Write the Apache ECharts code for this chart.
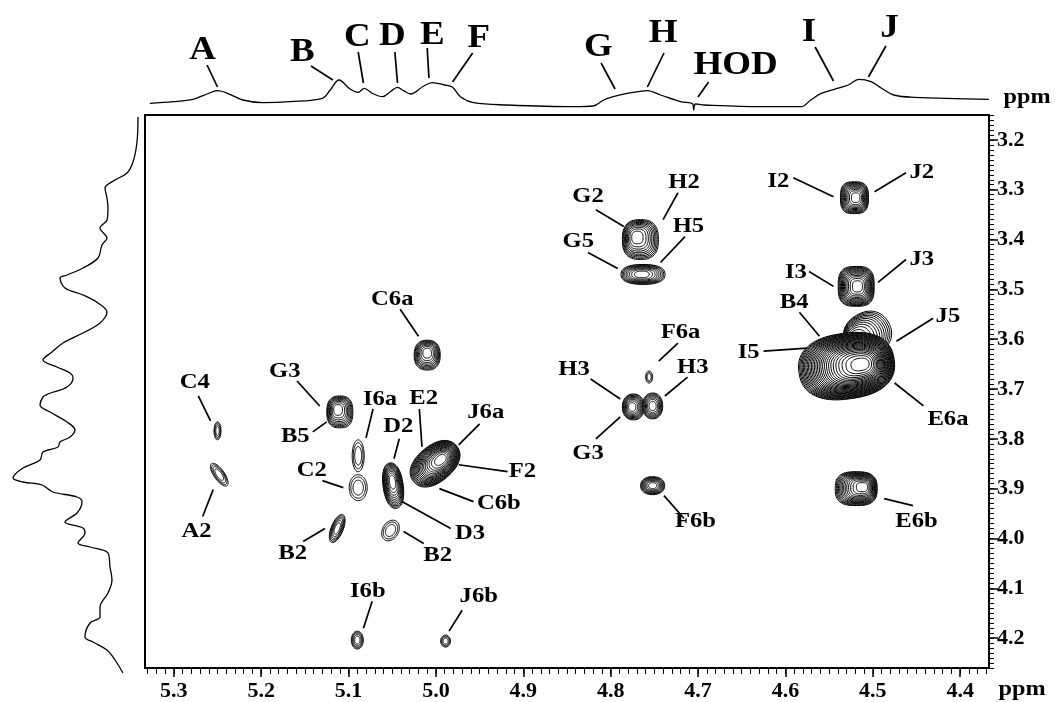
<!DOCTYPE html>
<html>
<head>
    <meta charset="utf-8">
    <title>2D NMR</title>
    <script src="https://cdn.jsdelivr.net/npm/echarts@6/dist/echarts.min.js"></script>
</head>
<body>
<div id="main"></div>
<style type="text/css">
    html, body {
        height: 100%;
        margin: 0px;
        padding: 0px;
        background: #fff
    }

    #main {
        width: 1055px;
        height: 702px
    }
</style>

<script type="text/javascript">
    // tick labels (ppm)
    var xTicks = [5.3, 5.2, 5.1, 5.0, 4.9, 4.8, 4.7, 4.6, 4.5, 4.4];
    var yTicks = [3.2, 3.3, 3.4, 3.5, 3.6, 3.7, 3.8, 3.9, 4.0, 4.1, 4.2];

    // 1D projection on top: [ppm, intensity]
    var topTrace = [
        [5.3275, 9.7], [5.301, 11.3], [5.278, 13.7], [5.262, 19], [5.250, 22.3], [5.236, 18.7],
        [5.221, 13], [5.198, 10.3], [5.167, 11.3], [5.130, 14.7], [5.121, 23], [5.111, 33],
        [5.098, 23.7], [5.089, 20.7], [5.082, 24.7], [5.073, 19.7], [5.061, 16.3], [5.052, 21.3],
        [5.044, 25.7], [5.037, 22.3], [5.029, 19], [5.014, 27], [5.004, 30.3], [4.990, 28],
        [4.981, 25.7], [4.972, 16.3], [4.957, 10.3], [4.918, 8], [4.842, 6.3], [4.820, 7],
        [4.808, 13], [4.797, 16.3], [4.781, 19.7], [4.769, 21.3], [4.758, 22.3], [4.743, 18],
        [4.720, 11.3], [4.706, 9], [4.705, 3], [4.703, 9], [4.693, 8], [4.628, 6.3],
        [4.582, 6.3], [4.571, 13], [4.559, 19.7], [4.544, 23.7], [4.528, 28], [4.516, 33.7],
        [4.502, 31.3], [4.490, 24.7], [4.476, 18], [4.453, 15.7], [4.367, 13.7]
    ];

    // 1D projection on the left: [intensity, ppm]
    var sideTrace = [
        [2, 3.154], [3, 3.204], [7, 3.244], [13, 3.266], [25, 3.28], [35, 3.296], [33, 3.316],
        [32, 3.336], [33, 3.36], [40, 3.376], [33, 3.396], [38, 3.41], [42, 3.436], [57, 3.456],
        [73, 3.47], [80, 3.476], [75, 3.496], [57, 3.51], [42, 3.526], [33, 3.544], [40, 3.566],
        [57, 3.586], [77, 3.606], [88, 3.624], [97, 3.64], [83, 3.654], [70, 3.666], [67, 3.676],
        [73, 3.694], [92, 3.708], [97, 3.714], [100, 3.73], [90, 3.744], [73, 3.764], [65, 3.78],
        [70, 3.794], [80, 3.804], [82, 3.814], [97, 3.824], [100, 3.84], [117, 3.856], [127, 3.876],
        [117, 3.884], [98, 3.89], [87, 3.904], [63, 3.914], [58, 3.924], [63, 3.946], [75, 3.964],
        [57, 3.976], [55, 3.986], [62, 4.006], [50, 4.014], [32, 4.026], [30, 4.054], [28, 4.08],
        [32, 4.106], [40, 4.134], [40, 4.154], [50, 4.166], [55, 4.194], [47, 4.204], [33, 4.22],
        [25, 4.24], [17, 4.266]
    ];

    // cross peaks: [x ppm, y ppm, half width x, half width y, contour levels, tilt deg, apex x, apex y, squareness]
    var peaks = [
        [5.250, 3.784, 0.0040, 0.018, 4, 0, 5.250, 3.784, 2],
        [5.248, 3.872, 0.0060, 0.027, 4, -35, 5.248, 3.872, 2],
        [5.110, 3.746, 0.0149, 0.032, 9, 0, 5.113, 3.740, 2.6],
        [5.089, 3.834, 0.0069, 0.032, 3, 0, 5.089, 3.834, 2],
        [5.089, 3.898, 0.0103, 0.026, 3, 0, 5.089, 3.898, 2],
        [5.113, 3.980, 0.0069, 0.030, 6, 22, 5.113, 3.980, 2],
        [5.049, 3.894, 0.0115, 0.046, 11, -8, 5.050, 3.884, 2.2],
        [5.052, 3.984, 0.0092, 0.022, 3, 30, 5.052, 3.984, 2],
        [5.010, 3.632, 0.0149, 0.030, 9, 0, 5.010, 3.626, 2.4],
        [4.506, 3.590, 0.0275, 0.044, 12, -30, 4.525, 3.606, 2.2],
        [5.001, 3.850, 0.0320, 0.036, 18, -40, 4.993, 3.840, 2.2],
        [4.766, 3.400, 0.0206, 0.040, 10, 0, 4.771, 3.394, 2.6],
        [4.763, 3.470, 0.0252, 0.020, 9, 0, 4.765, 3.470, 2.4],
        [4.756, 3.676, 0.0040, 0.012, 3, 0, 4.756, 3.676, 2],
        [4.774, 3.736, 0.0126, 0.026, 9, 0, 4.776, 3.736, 2.2],
        [4.752, 3.734, 0.0115, 0.026, 8, 0, 4.752, 3.734, 2.2],
        [4.752, 3.894, 0.0138, 0.018, 9, 0, 4.752, 3.894, 2.2],
        [4.521, 3.316, 0.0160, 0.032, 11, 0, 4.519, 3.316, 3],
        [4.519, 3.494, 0.0206, 0.040, 13, 0, 4.517, 3.494, 3],
        [4.530, 3.654, 0.0550, 0.066, 28, -8, 4.511, 3.650, 2.4],
        [4.519, 3.900, 0.0240, 0.034, 14, 0, 4.510, 3.896, 2.8],
        [5.090, 4.204, 0.0069, 0.018, 5, 0, 5.090, 4.204, 2],
        [4.989, 4.206, 0.0057, 0.012, 4, 0, 4.989, 4.206, 2]
    ];

    // peak assignments: [text, text x, text y, line x1, y1, x2, y2] (ppm)
    var peakNotes = [
        ['C4', 5.276, 3.686, 5.272, 3.714, 5.258, 3.764],
        ['A2', 5.274, 3.986, 5.267, 3.956, 5.255, 3.902],
        ['G3', 5.173, 3.664, 5.159, 3.684, 5.133, 3.734],
        ['B5', 5.161, 3.794, 5.141, 3.786, 5.125, 3.766],
        ['I6a', 5.064, 3.720, 5.072, 3.740, 5.080, 3.798],
        ['C2', 5.142, 3.864, 5.130, 3.884, 5.106, 3.898],
        ['B2', 5.164, 4.030, 5.152, 4.006, 5.127, 3.980],
        ['D2', 5.043, 3.774, 5.042, 3.800, 5.048, 3.840],
        ['E2', 5.014, 3.718, 5.019, 3.740, 5.016, 3.816],
        ['D3', 4.961, 3.990, 4.983, 3.980, 5.039, 3.926],
        ['B2', 4.998, 4.034, 5.014, 4.010, 5.037, 3.986],
        ['C6a', 5.050, 3.520, 5.041, 3.540, 5.020, 3.594],
        ['J6a', 4.943, 3.746, 4.950, 3.770, 4.974, 3.812],
        ['F2', 4.901, 3.866, 4.918, 3.866, 4.974, 3.852],
        ['C6b', 4.928, 3.930, 4.957, 3.926, 4.996, 3.900],
        ['H3', 4.842, 3.660, 4.823, 3.680, 4.789, 3.720],
        ['G3', 4.826, 3.830, 4.817, 3.800, 4.789, 3.756],
        ['G2', 4.826, 3.314, 4.817, 3.340, 4.785, 3.374],
        ['H2', 4.716, 3.286, 4.723, 3.306, 4.740, 3.360],
        ['G5', 4.837, 3.404, 4.826, 3.426, 4.792, 3.458],
        ['H5', 4.711, 3.374, 4.715, 3.394, 4.743, 3.446],
        ['F6a', 4.720, 3.586, 4.723, 3.608, 4.745, 3.644],
        ['H3', 4.706, 3.656, 4.712, 3.676, 4.738, 3.714],
        ['F6b', 4.703, 3.966, 4.716, 3.960, 4.739, 3.914],
        ['I2', 4.608, 3.284, 4.591, 3.276, 4.545, 3.314],
        ['J2', 4.444, 3.266, 4.462, 3.266, 4.498, 3.304],
        ['I3', 4.588, 3.466, 4.573, 3.464, 4.545, 3.494],
        ['J3', 4.444, 3.440, 4.462, 3.440, 4.494, 3.486],
        ['B4', 4.590, 3.526, 4.584, 3.546, 4.561, 3.594],
        ['I5', 4.642, 3.626, 4.625, 3.624, 4.575, 3.618],
        ['J5', 4.414, 3.554, 4.431, 3.558, 4.473, 3.604],
        ['E6a', 4.414, 3.760, 4.442, 3.734, 4.475, 3.688],
        ['E6b', 4.450, 3.966, 4.454, 3.934, 4.487, 3.920],
        ['I6b', 5.078, 4.106, 5.073, 4.126, 5.083, 4.180],
        ['J6b', 4.951, 4.116, 4.970, 4.144, 4.985, 4.186]
    ];

    // residue letters on the top trace: [text, x ppm, y, line x1, y1, x2, y2]
    var traceNotes = [
        ['A', 5.267, 63, 5.262, 48, 5.250, 26],
        ['B', 5.153, 61, 5.143, 47, 5.118, 33],
        ['C', 5.090, 76, 5.089, 61, 5.083, 30],
        ['D', 5.050, 77, 5.047, 61, 5.044, 30],
        ['E', 5.004, 78, 5.010, 65, 5.008, 35],
        ['F', 4.951, 75, 4.958, 60, 4.981, 31],
        ['G', 4.814, 66, 4.811, 50, 4.795, 24],
        ['H', 4.740, 80, 4.739, 60, 4.758, 26],
        ['HOD', 4.657, 48, 4.688, 31, 4.700, 16],
        ['I', 4.573, 81, 4.566, 66, 4.545, 32],
        ['J', 4.481, 85, 4.485, 67, 4.505, 36]
    ];

    var xMinor = [];
    for (var k = 437; k <= 533; k++) xMinor.push(k / 100);
    var yMinor = [];
    for (var m = 315; m <= 426; m++) yMinor.push(m / 100);

    var FONT = '"Liberation Serif", "Times New Roman", serif';

    function renderPeak(params, api) {
        var c = api.coord([api.value(0), api.value(1)]);
        var s = api.size([api.value(2), api.value(3)]);
        var n = api.value(4);
        var ang = api.value(5) * Math.PI / 180;
        var a = api.coord([api.value(6), api.value(7)]);
        var q = api.value(8);
        var rx0 = Math.abs(s[0]), ry0 = Math.abs(s[1]);
        var children = [];
        for (var i = 0; i < n; i++) {
            var f = Math.sqrt(1 - i / n);
            var u = 1 - f;
            var cx = c[0] + (a[0] - c[0]) * u;
            var cy = c[1] + (a[1] - c[1]) * u;
            var pts = [];
            for (var j = 0; j < 64; j++) {
                var th = 2 * Math.PI * j / 64;
                var co = Math.cos(th), si = Math.sin(th);
                var ex = rx0 * f * (co < 0 ? -1 : 1) * Math.pow(Math.abs(co), 2 / q);
                var ey = ry0 * f * (si < 0 ? -1 : 1) * Math.pow(Math.abs(si), 2 / q);
                pts.push([cx + ex * Math.cos(ang) - ey * Math.sin(ang),
                    cy + ex * Math.sin(ang) + ey * Math.cos(ang)]);
            }
            children.push({
                type: 'polygon',
                shape: {points: pts},
                style: {fill: '#fff', stroke: '#000', lineWidth: 1}
            });
        }
        return {type: 'group', children: children};
    }

    function noteRenderer(list, size) {
        return function (params, api) {
            var t = api.coord([api.value(0), api.value(1)]);
            var p1 = api.coord([api.value(2), api.value(3)]);
            var p2 = api.coord([api.value(4), api.value(5)]);
            return {
                type: 'group',
                children: [{
                    type: 'line',
                    shape: {x1: p1[0], y1: p1[1], x2: p2[0], y2: p2[1]},
                    style: {stroke: '#000', lineWidth: 1.7}
                }, {
                    type: 'text',
                    x: t[0],
                    y: t[1],
                    scaleX: 1.12,
                    style: {
                        text: list[params.dataIndex][0],
                        font: 'bold ' + size + 'px ' + FONT,
                        fill: '#000',
                        align: 'center',
                        verticalAlign: 'middle'
                    }
                }]
            };
        };
    }

    var labelStyle = {
        color: '#000',
        fontFamily: FONT,
        fontWeight: 'bold',
        fontSize: 22
    };

    var myChart = echarts.init(document.getElementById('main'));

    var option = {
        backgroundColor: '#fff',
        animation: false,
        grid: [
            {left: 145, top: 115, width: 844, height: 555, show: true, borderColor: '#000', borderWidth: 2},
            {left: 145, top: 0, width: 844, height: 113},
            {left: 0, top: 115, width: 140, height: 555}
        ],
        xAxis: [
            {
                gridIndex: 0, type: 'value', min: 4.367, max: 5.333, inverse: true, position: 'bottom',
                axisLine: {show: true, onZero: false, lineStyle: {color: '#000', width: 2}},
                axisTick: {show: true, length: 9, customValues: xTicks, lineStyle: {color: '#000', width: 1.5}},
                axisLabel: Object.assign({customValues: xTicks, margin: 12, formatter: function (v) {
                    return v.toFixed(1);
                }}, labelStyle),
                splitLine: {show: false}
            },
            {
                gridIndex: 0, type: 'value', min: 4.367, max: 5.333, inverse: true, position: 'bottom',
                axisLine: {show: false, onZero: false},
                axisTick: {show: true, length: 6, customValues: xMinor, lineStyle: {color: '#000', width: 1}},
                axisLabel: {show: false},
                splitLine: {show: false}
            },
            {gridIndex: 1, type: 'value', min: 4.367, max: 5.333, inverse: true, show: false},
            {gridIndex: 2, type: 'value', min: 0, max: 140, inverse: true, show: false}
        ],
        yAxis: [
            {
                gridIndex: 0, type: 'value', min: 3.15, max: 4.26, inverse: true, position: 'right',
                axisLine: {show: true, onZero: false, lineStyle: {color: '#000', width: 2}},
                axisTick: {show: true, length: 9, customValues: yTicks, lineStyle: {color: '#000', width: 1.5}},
                axisLabel: Object.assign({customValues: yTicks, margin: 8, formatter: function (v) {
                    return v.toFixed(1);
                }}, labelStyle),
                splitLine: {show: false}
            },
            {
                gridIndex: 0, type: 'value', min: 3.15, max: 4.26, inverse: true, position: 'right',
                axisLine: {show: false, onZero: false},
                axisTick: {show: true, length: 5, customValues: yMinor, lineStyle: {color: '#000', width: 1}},
                axisLabel: {show: false},
                splitLine: {show: false}
            },
            {gridIndex: 1, type: 'value', min: 0, max: 113, show: false},
            {gridIndex: 2, type: 'value', min: 3.15, max: 4.26, inverse: true, show: false}
        ],
        graphic: [
            {type: 'text', x: 1027, y: 97, scaleX: 1.1, style: {text: 'ppm', font: 'bold 22px ' + FONT, fill: '#000', align: 'center', verticalAlign: 'middle'}},
            {type: 'text', x: 1022, y: 689, scaleX: 1.1, style: {text: 'ppm', font: 'bold 22px ' + FONT, fill: '#000', align: 'center', verticalAlign: 'middle'}}
        ],
        series: [
            {
                name: 'top',
                type: 'line',
                xAxisIndex: 2,
                yAxisIndex: 2,
                data: topTrace,
                symbol: 'none',
                smooth: 0.35,
                clip: false,
                lineStyle: {color: '#000', width: 1.3}
            },
            {
                name: 'side',
                type: 'line',
                xAxisIndex: 3,
                yAxisIndex: 3,
                data: sideTrace,
                symbol: 'none',
                smooth: 0.35,
                clip: false,
                lineStyle: {color: '#000', width: 1.3}
            },
            {
                name: 'peaks',
                type: 'custom',
                xAxisIndex: 0,
                yAxisIndex: 0,
                renderItem: renderPeak,
                data: peaks,
                clip: true
            },
            {
                name: 'assign',
                type: 'custom',
                xAxisIndex: 0,
                yAxisIndex: 0,
                renderItem: noteRenderer(peakNotes, 22),
                data: peakNotes.map(function (r) { return r.slice(1); })
            },
            {
                name: 'residues',
                type: 'custom',
                xAxisIndex: 2,
                yAxisIndex: 2,
                renderItem: noteRenderer(traceNotes, 33),
                data: traceNotes.map(function (r) { return r.slice(1); })
            }
        ]
    };
    myChart.setOption(option);
</script>
</body>
</html>
